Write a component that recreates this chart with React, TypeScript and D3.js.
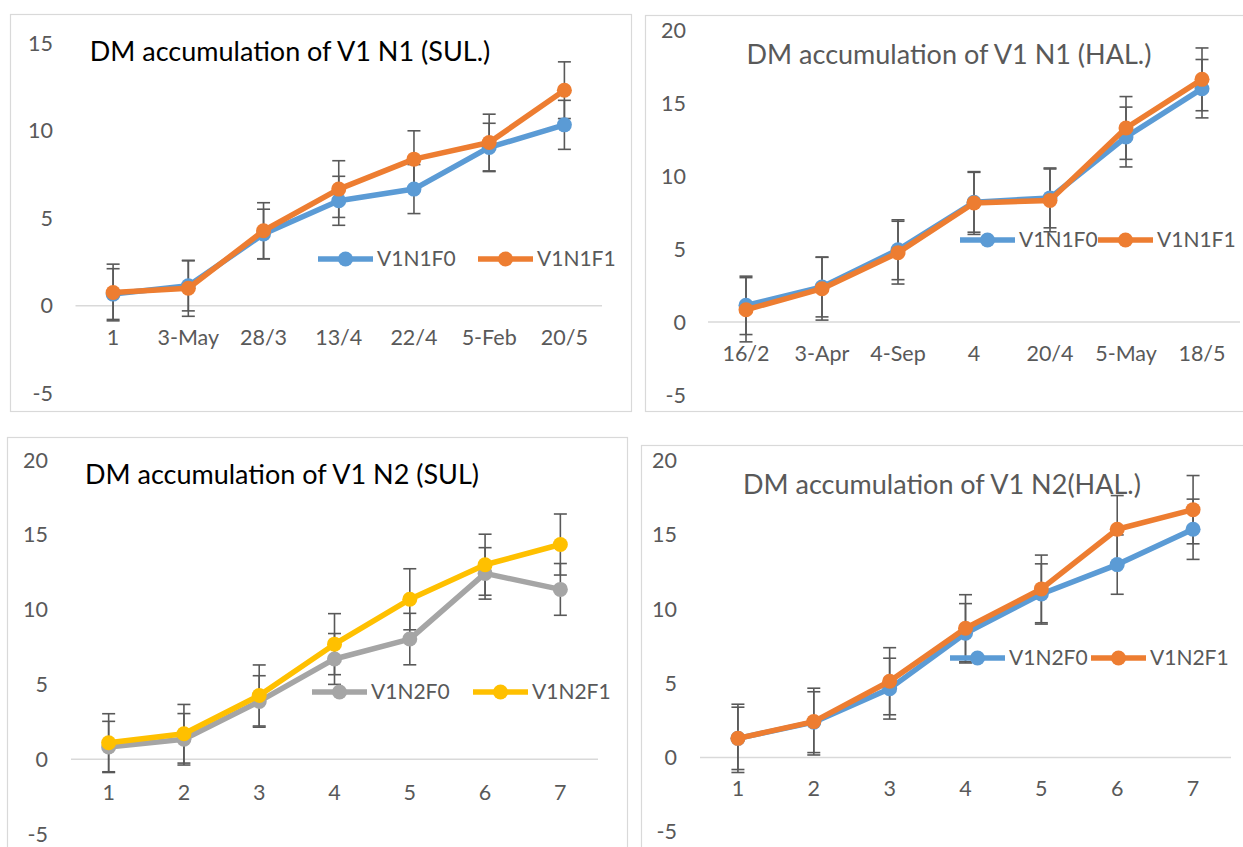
import React from 'react';
import * as d3 from 'd3';

// categories
const catsSulN1 = ['1', '3-May', '28/3', '13/4', '22/4', '5-Feb', '20/5'];
const catsHalN1 = ['16/2', '3-Apr', '4-Sep', '4', '20/4', '5-May', '18/5'];
const catsN2 = ['1', '2', '3', '4', '5', '6', '7'];

// y tick labels
const ticksA = [-5, 0, 5, 10, 15];
const ticksB = [-5, 0, 5, 10, 15, 20];

// series values + error amounts
const sulN1F0 = [0.67, 1.14, 4.1, 6.0, 6.67, 9.05, 10.34];
const sulN1F0Err = [1.45, 1.43, 1.42, 1.4, 1.4, 1.38, 1.4];
const sulN1F1 = [0.76, 1.0, 4.29, 6.67, 8.38, 9.33, 12.32];
const sulN1F1Err = [1.62, 1.6, 1.6, 1.62, 1.62, 1.62, 1.62];

const halN1F0 = [1.14, 2.4, 4.95, 8.2, 8.5, 12.67, 15.98];
const halN1F0Err = [2.0, 2.05, 2.05, 2.05, 2.05, 2.05, 2.0];
const halN1F1 = [0.84, 2.28, 4.75, 8.15, 8.33, 13.29, 16.62];
const halN1F1Err = [2.2, 2.15, 2.15, 2.15, 2.15, 2.15, 2.15];

const sulN2F0 = [0.82, 1.33, 3.86, 6.7, 8.03, 12.42, 11.35];
const sulN2F0Err = [1.71, 1.72, 1.72, 1.7, 1.72, 1.72, 1.73];
const sulN2F1 = [1.1, 1.7, 4.26, 7.69, 10.69, 13.0, 14.35];
const sulN2F1Err = [1.94, 1.96, 2.04, 2.04, 2.04, 2.04, 2.04];

const halN2F0 = [1.29, 2.38, 4.64, 8.37, 11.02, 13.0, 15.38];
const halN2F0Err = [2.1, 2.05, 2.05, 2.0, 2.03, 2.0, 2.03];
const halN2F1 = [1.29, 2.42, 5.14, 8.71, 11.36, 15.38, 16.7];
const halN2F1Err = [2.3, 2.25, 2.26, 2.26, 2.28, 2.27, 2.3];

const BLUE = '#5B9BD5';
const ORANGE = '#ED7D31';
const GRAY = '#A5A5A5';
const YELLOW = '#FFC000';
const TEXT = '#595959';
const FONT = 'Lato, Calibri, "Open Sans", sans-serif';

const panels = [
  {
    frame: { x: 10.5, y: 14.5, w: 621, h: 397 },
    plot: { x0: 75.5, x1: 602, top: 43.3, bottom: 393.3 },
    yDomain: [-5, 15], ticks: ticksA, tickX: 53, xLabelY: 337,
    cats: catsSulN1,
    title: { text: 'DM accumulation of V1 N1 (SUL.)', x: 290, y: 52, color: '#000' },
    legend: { y: 259, xs: [318, 478] },
    series: [
      { name: 'V1N1F0', color: BLUE, values: sulN1F0, errs: sulN1F0Err },
      { name: 'V1N1F1', color: ORANGE, values: sulN1F1, errs: sulN1F1Err },
    ],
  },
  {
    frame: { x: 645.5, y: 15.5, w: 640, h: 396 },
    plot: { x0: 708, x1: 1240, top: 30, bottom: 395 },
    yDomain: [-5, 20], ticks: ticksB, tickX: 686, xLabelY: 353,
    cats: catsHalN1,
    title: { text: 'DM accumulation of V1 N1 (HAL.)', x: 949, y: 55, color: TEXT },
    legend: { y: 240, xs: [960, 1098] },
    series: [
      { name: 'V1N1F0', color: BLUE, values: halN1F0, errs: halN1F0Err },
      { name: 'V1N1F1', color: ORANGE, values: halN1F1, errs: halN1F1Err },
    ],
  },
  {
    frame: { x: 7.5, y: 437.5, w: 620, h: 430 },
    plot: { x0: 71, x1: 598, top: 460, bottom: 834 },
    yDomain: [-5, 20], ticks: ticksB, tickX: 48, xLabelY: 792,
    cats: catsN2,
    title: { text: 'DM accumulation of V1 N2 (SUL)', x: 282, y: 475, color: '#000' },
    legend: { y: 692, xs: [312, 473] },
    series: [
      { name: 'V1N2F0', color: GRAY, values: sulN2F0, errs: sulN2F0Err },
      { name: 'V1N2F1', color: YELLOW, values: sulN2F1, errs: sulN2F1Err },
    ],
  },
  {
    frame: { x: 641.5, y: 445.5, w: 640, h: 430 },
    plot: { x0: 700, x1: 1231, top: 460.7, bottom: 831.7 },
    yDomain: [-5, 20], ticks: ticksB, tickX: 677, xLabelY: 788,
    cats: catsN2,
    title: { text: 'DM accumulation of V1 N2(HAL.)', x: 942, y: 485, color: TEXT },
    legend: { y: 658, xs: [950, 1091] },
    series: [
      { name: 'V1N2F0', color: BLUE, values: halN2F0, errs: halN2F0Err },
      { name: 'V1N2F1', color: ORANGE, values: halN2F1, errs: halN2F1Err },
    ],
  },
];

function Panel({ p }) {
  const x = d3.scaleBand().domain(p.cats).range([p.plot.x0, p.plot.x1]);
  const y = d3.scaleLinear().domain(p.yDomain).range([p.plot.bottom, p.plot.top]);
  const cx = (c) => x(c) + x.bandwidth() / 2;
  const line = d3
    .line()
    .x((d, i) => cx(p.cats[i]))
    .y((d) => y(d));

  return (
    <g>
      <rect x={p.frame.x} y={p.frame.y} width={p.frame.w} height={p.frame.h}
        fill="#fff" stroke="#D9D9D9" strokeWidth={1.2} />
      <line x1={p.plot.x0} x2={p.plot.x1} y1={y(0)} y2={y(0)} stroke="#D9D9D9" strokeWidth={1.5} />
      {p.ticks.map((t) => (
        <text key={t} x={p.tickX} y={y(t)} dy="0.35em" textAnchor="end"
          fontSize={21.5} fill={TEXT} fontFamily={FONT}>{t}</text>
      ))}
      {p.cats.map((c) => (
        <text key={c} x={cx(c)} y={p.xLabelY} dy="0.35em" textAnchor="middle"
          fontSize={21.5} fill={TEXT} fontFamily={FONT}>{c}</text>
      ))}
      {p.series.map((s) => (
        <g key={s.name + 'err'} stroke={TEXT} strokeWidth={1.6}>
          {s.values.map((v, i) => {
            const px = cx(p.cats[i]);
            const hi = y(v + s.errs[i]);
            const lo = y(v - s.errs[i]);
            return (
              <g key={i}>
                <line x1={px} x2={px} y1={hi} y2={lo} />
                <line x1={px - 6.5} x2={px + 6.5} y1={hi} y2={hi} />
                <line x1={px - 6.5} x2={px + 6.5} y1={lo} y2={lo} />
              </g>
            );
          })}
        </g>
      ))}
      {p.series.map((s) => (
        <g key={s.name}>
          <path d={line(s.values)} fill="none" stroke={s.color} strokeWidth={5.5}
            strokeLinejoin="round" strokeLinecap="round" />
          {s.values.map((v, i) => (
            <circle key={i} cx={cx(p.cats[i])} cy={y(v)} r={7.5} fill={s.color} />
          ))}
        </g>
      ))}
      {p.series.map((s, i) => {
        const lx = p.legend.xs[i];
        return (
          <g key={s.name + 'leg'}>
            <line x1={lx} x2={lx + 55} y1={p.legend.y} y2={p.legend.y}
              stroke={s.color} strokeWidth={5.5} />
            <circle cx={lx + 27.5} cy={p.legend.y} r={7.5} fill={s.color} />
            <text x={lx + 59} y={p.legend.y} dy="0.35em" fontSize={21} fill={TEXT}
              fontFamily={FONT}>{s.name}</text>
          </g>
        );
      })}
      <text x={p.title.x} y={p.title.y} dy="0.35em" textAnchor="middle" fontSize={27}
        fill={p.title.color} fontFamily={FONT}>{p.title.text}</text>
    </g>
  );
}

export default function App() {
  return (
    <svg width={1243} height={847} style={{ position: 'absolute', left: 0, top: 0, background: '#fff' }}>
      <rect width={1243} height={847} fill="#fff" />
      {panels.map((p, i) => (
        <Panel key={i} p={p} />
      ))}
    </svg>
  );
}
